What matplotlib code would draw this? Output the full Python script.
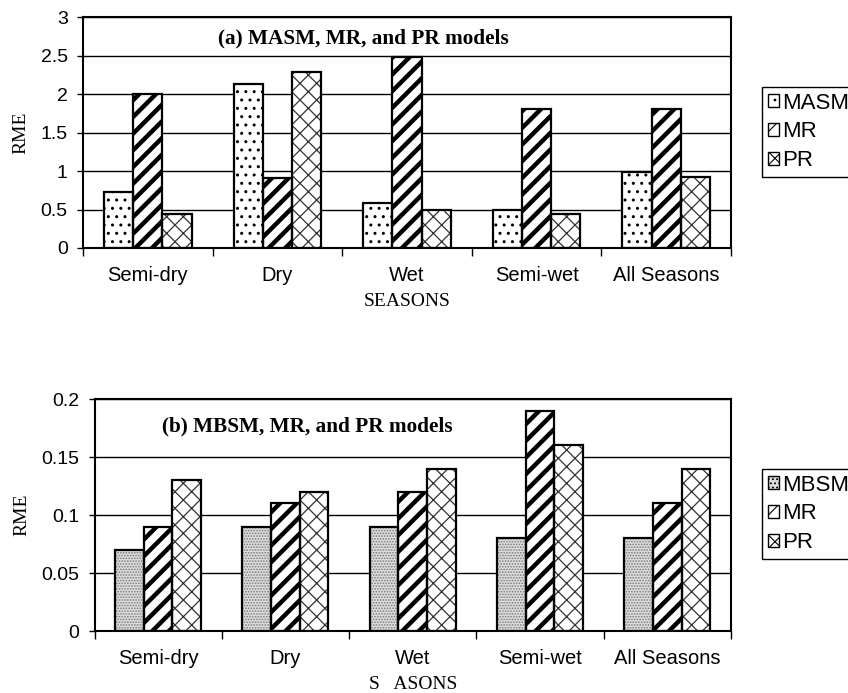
import matplotlib
matplotlib.use("Agg")
import matplotlib.pyplot as plt
import numpy as np
from matplotlib.patches import Patch

seasons = ["Semi-dry", "Dry", "Wet", "Semi-wet", "All Seasons"]
masm = [0.73, 2.13, 0.59, 0.49, 0.99]
mr_a = [2.00, 0.91, 2.48, 1.81, 1.80]
pr_a = [0.44, 2.29, 0.49, 0.44, 0.92]
mbsm = [0.07, 0.09, 0.09, 0.08, 0.08]
mr_b = [0.09, 0.11, 0.12, 0.19, 0.11]
pr_b = [0.13, 0.12, 0.14, 0.16, 0.14]

SANS = "Liberation Sans"
SERIF = "Liberation Serif"

W, H = 848, 693
fig = plt.figure(figsize=(W / 100, H / 100), dpi=100)


def px_axes(l, t, r, b):
    return fig.add_axes([l / W, 1 - b / H, (r - l) / W, (b - t) / H])


styles = {
    "MASM": dict(face="white", hatch="..", hcol="black", hlw=1.0),
    "MBSM": dict(face="#dcdcdc", hatch="......", hcol="#7a7a7a", hlw=0.8),
    "MR": dict(face="white", hatch="//", hcol="black", hlw=3.2),
    "PR": dict(face="white", hatch="xx", hcol="#333333", hlw=0.9),
}


def draw_bars(ax, x, vals, st, width):
    plt.rcParams["hatch.linewidth"] = st["hlw"]
    bars = ax.bar(x, vals, width, color=st["face"], hatch=st["hatch"],
                  edgecolor=st["hcol"], linewidth=0, zorder=2)
    for b in bars:
        if hasattr(b, "set_hatch_linewidth"):
            b.set_hatch_linewidth(st["hlw"])
    ax.bar(x, vals, width, fill=False, edgecolor="black", linewidth=1.6, zorder=3)


def make_handle(name):
    st = styles[name]
    lw = {"MR": 5.0}.get(name, 0.8)
    plt.rcParams["hatch.linewidth"] = lw
    p = Patch(facecolor=st["face"], hatch=st["hatch"].replace("......", "...."),
              edgecolor="black", linewidth=1.0)
    if hasattr(p, "set_hatch_linewidth"):
        p.set_hatch_linewidth(lw)
    return p


def panel(ax, series, names, ymax, ystep, yticklabels, title, title_x, title_y,
          xlabel, leg_pos):
    n = len(seasons)
    x = np.arange(n)
    w = 0.225
    for i, (vals, name) in enumerate(zip(series, names)):
        draw_bars(ax, x + (i - 1) * w, vals, styles[name], w)
    ax.set_xlim(-0.5, n - 0.5)
    ax.set_ylim(0, ymax)
    yt = np.arange(0, ymax + ystep / 2, ystep)
    ax.set_yticks(yt)
    ax.set_yticklabels(yticklabels, fontfamily=SANS, fontsize=14)
    ax.yaxis.grid(True, color="black", linewidth=1.0, zorder=0)
    ax.set_axisbelow(True)
    ax.set_xticks(np.arange(-0.5, n, 1.0))
    ax.set_xticklabels([])
    ax.set_xticks(x, minor=True)
    ax.set_xticklabels(seasons, minor=True, fontfamily=SANS, fontsize=14.5)
    ax.tick_params(axis="x", which="major", direction="out", length=6, width=1)
    ax.tick_params(axis="x", which="minor", length=0, pad=13)
    ax.tick_params(axis="y", direction="out", length=4.5, width=1, pad=6.5)
    for s in ax.spines.values():
        s.set_linewidth(1.5)
        s.set_color("black")
    ax.set_ylabel("RME", fontfamily=SERIF, fontsize=14, labelpad=8)
    ax.set_xlabel(xlabel, fontfamily=SERIF, fontsize=14, labelpad=6)
    ax.text(title_x, title_y, title, transform=ax.transAxes, fontfamily=SERIF,
            fontweight="bold", fontsize=15.3, va="top", ha="left")
    handles = [make_handle(nm) for nm in names]
    leg = fig.legend(handles, names, loc="upper left",
                     bbox_to_anchor=(leg_pos[0] / W, 1 - leg_pos[1] / H),
                     prop={"family": SANS, "size": 16}, frameon=True, fancybox=False,
                     edgecolor="black", framealpha=1, handlelength=0.5, handleheight=0.5,
                     handletextpad=0.15, labelspacing=0.35, borderpad=0.25, borderaxespad=0)
    leg.get_frame().set_linewidth(1.0)


ax1 = px_axes(83, 17, 731, 248)
panel(ax1, [masm, mr_a, pr_a], ["MASM", "MR", "PR"], 3, 0.5,
      ["0", "0.5", "1", "1.5", "2", "2.5", "3"],
      "(a) MASM, MR, and PR models", (218 - 83) / (731 - 83), 1 - (28 - 17) / 231,
      "SEASONS", (762, 87))

ax2 = px_axes(94.5, 399, 731, 631)
panel(ax2, [mbsm, mr_b, pr_b], ["MBSM", "MR", "PR"], 0.2, 0.05,
      ["0", "0.05", "0.1", "0.15", "0.2"],
      "(b) MBSM, MR, and PR models", (162 - 94.5) / (731 - 94.5), 1 - (416 - 399) / 232,
      "S   ASONS", (762, 469))
ax2.xaxis.label.set_y(0)

fig.savefig("out.png", dpi=100)
